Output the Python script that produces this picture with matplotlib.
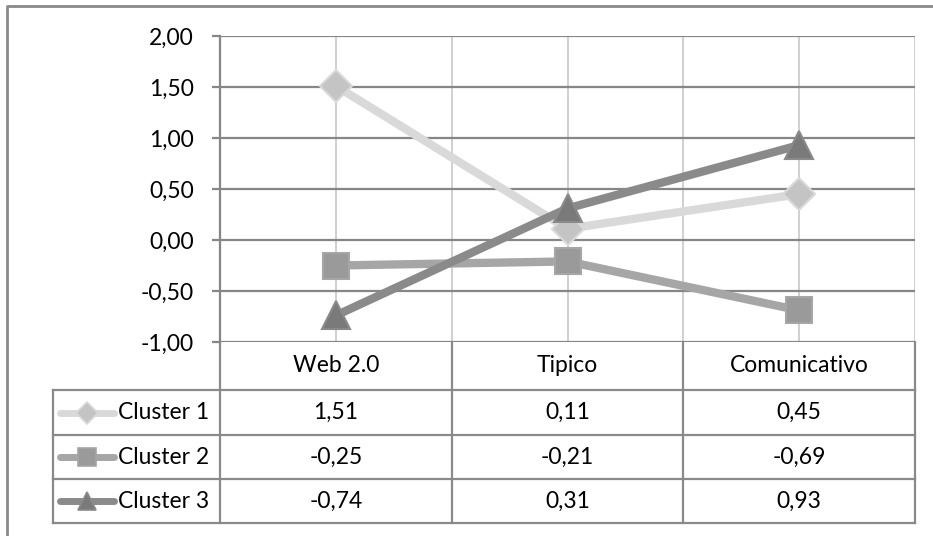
import matplotlib
matplotlib.use("Agg")
import matplotlib.pyplot as plt
from matplotlib.lines import Line2D
import matplotlib.transforms as mtransforms

categories = ["Web 2.0", "Tipico", "Comunicativo"]
series_names = ["Cluster 1", "Cluster 2", "Cluster 3"]
cluster1 = [1.51, 0.11, 0.45]
cluster2 = [-0.25, -0.21, -0.69]
cluster3 = [-0.74, 0.31, 0.93]
yticks = [-1.0, -0.5, 0.0, 0.5, 1.0, 1.5, 2.0]

series = [cluster1, cluster2, cluster3]
line_colors = ["#d9d9d9", "#a6a6a6", "#8a8a8a"]
marker_fc = ["#c4c4c4", "#9a9a9a", "#7a7a7a"]
marker_ec = ["#d9d9d9", "#a6a6a6", "#8a8a8a"]
markers = ["D", "s", "^"]
msizes = [16, 18.5, 20]
leg_sizes = [11, 12.5, 13]

W, H = 933, 536
plt.rcParams['font.family'] = ['Lato', 'DejaVu Sans']
FS = 16.5

fig = plt.figure(figsize=(W / 100, H / 100), dpi=100)
fig.patch.set_facecolor("white")

# overlay axes in pixel coordinates
ov = fig.add_axes([0, 0, 1, 1], zorder=0)
ov.set_xlim(0, W)
ov.set_ylim(H, 0)
ov.axis("off")

L, R, T, B = 220, 915, 36, 342
ax = fig.add_axes([L / W, (H - B) / H, (R - L) / W, (B - T) / H], zorder=1)
ax.set_facecolor("none")
ax.set_xlim(-0.5, len(categories) - 0.5)
ax.set_ylim(-1.0, 2.0)

# gridlines
for y in yticks:
    ax.axhline(y, color="#868686", lw=1.6, zorder=1)
for i in range(len(categories)):
    ax.axvline(i, color="#c8c8c8", lw=1.2, zorder=0.5)
    ax.axvline(i + 0.5, color="#c8c8c8", lw=1.2, zorder=0.5)

for s in ["top", "right", "bottom"]:
    ax.spines[s].set_visible(False)
ax.spines["left"].set_color("#868686")
ax.spines["left"].set_linewidth(1.6)
ax.set_yticks(yticks)
ax.set_yticklabels([f"{v:.2f}".replace(".", ",") for v in yticks], fontsize=FS)
ax.tick_params(axis="y", length=5.8, width=1.6, color="#868686", pad=13)
ax.set_xticks([])

xs = list(range(len(categories)))
for vals, lc, fc, ec, m, ms in zip(series, line_colors, marker_fc, marker_ec, markers, msizes):
    ax.plot(xs, vals, color=lc, lw=6, zorder=3, solid_capstyle="butt")
    ax.plot(xs, vals, linestyle="none", marker=m, markersize=ms,
            markerfacecolor=fc, markeredgecolor=ec, markeredgewidth=1.5, zorder=4)

# outer frame
ov.add_line(Line2D([7, 7, W + 5], [H + 5, 6, 6], color="#8a8a8a", lw=2))

# table
bt = mtransforms.blended_transform_factory(ax.transData, ov.transData)
T0 = 390
rows = [390, 435, 479, 523]
tleft = 53
gc = "#8a8a8a"
# header row verticals
for b in [-0.5, 0.5, 1.5, 2.5]:
    ov.add_line(Line2D([b, b], [B, T0], color=gc, lw=1.6, transform=bt))
for i, c in enumerate(categories):
    ov.text(i, 366, c, ha="center", va="center", fontsize=FS, transform=bt)
# horizontal lines
for y in rows:
    ov.add_line(Line2D([tleft, R], [y, y], color=gc, lw=1.6))
ov.add_line(Line2D([tleft, tleft], [rows[0], rows[-1]], color=gc, lw=1.6))
for b in [-0.5, 0.5, 1.5, 2.5]:
    ov.add_line(Line2D([b, b], [rows[0], rows[-1]], color=gc, lw=1.6, transform=bt))

for r, (name, vals, lc, fc, ec, m, ms) in enumerate(zip(series_names, series, line_colors, marker_fc, marker_ec, markers, leg_sizes)):
    yc = (rows[r] + rows[r + 1]) / 2
    ov.add_line(Line2D([60, 114], [yc, yc], color=lc, lw=5, solid_capstyle="round"))
    ov.add_line(Line2D([87], [yc], marker=m, markersize=ms, markerfacecolor=fc,
                       markeredgecolor=ec, markeredgewidth=1.2, linestyle="none"))
    ov.text(118, yc, name, ha="left", va="center", fontsize=FS)
    for i, v in enumerate(vals):
        ov.text(i, yc, f"{v:.2f}".replace(".", ","), ha="center", va="center",
                fontsize=FS, transform=bt)

fig.savefig("out.png", dpi=100)
